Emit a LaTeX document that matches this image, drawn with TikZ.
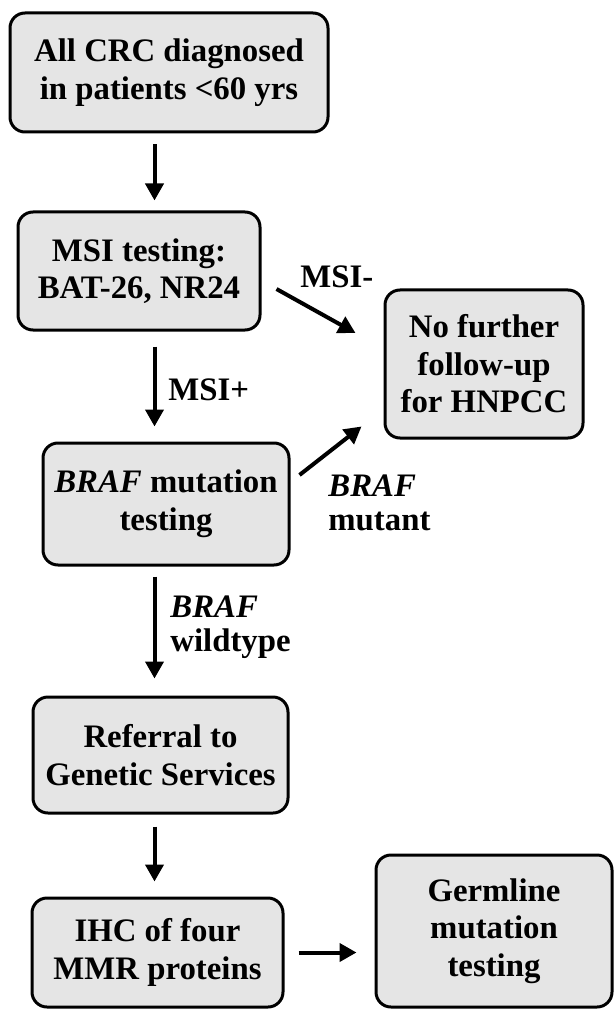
\documentclass[tikz,border=0pt]{standalone}
\usepackage{fontspec}
\setmainfont{Liberation Serif}
\usepackage{xcolor}
\usepackage{tikz}
\usetikzlibrary{positioning,calc,arrows.meta}
\definecolor{BoxGray}{RGB}{229,229,229}

\begin{document}
\begin{tikzpicture}[
        x=0.5pt, y=-0.5pt,
        % khung cho tung buoc
        stepbox/.style={
            rectangle,
            rounded corners=7.5pt,
            draw=black,
            line width=1.5pt,
            fill=BoxGray,
            align=center,
            inner sep=0pt,
            font=\fontsize{16.4}{18.8}\selectfont\bfseries
        },
        % nhan ben canh mui ten
        lbl/.style={
            anchor=west,
            align=left,
            inner sep=0pt,
            font=\fontsize{16.4}{16.8}\selectfont\bfseries
        },
        flow/.style={-{Triangle[length=8.5pt,width=9pt]}, line width=2pt}
    ]
        \useasboundingbox (0,0) rectangle (614,1010);

        % --- CAC BUOC ---
        \node[stepbox, minimum width=159pt, minimum height=59.5pt] (crc) at (169,72.5)
            {All CRC diagnosed\\in patients <60 yrs};
        \node[stepbox, minimum width=121pt, minimum height=59pt] (msi) at (139,271)
            {MSI testing:\\BAT-26, NR24};
        \node[stepbox, minimum width=99pt, minimum height=74pt] (nofollow) at (484,364)
            {No further\\follow-up\\for HNPCC};
        \node[stepbox, minimum width=123pt, minimum height=61pt] (braf) at (166,504)
            {\textit{BRAF} mutation\\testing};
        \node[stepbox, minimum width=127.5pt, minimum height=58pt] (referral) at (160.5,755)
            {Referral to\\Genetic Services};
        \node[stepbox, minimum width=125.5pt, minimum height=54.5pt] (ihc) at (157.5,952.5)
            {IHC of four\\MMR proteins};
        \node[stepbox, minimum width=118pt, minimum height=76pt] (germline) at (494,931)
            {Germline\\mutation\\testing};

        % truc doc cua cac mui ten chinh
        \coordinate (spine) at (154.5,0);

        % --- MUI TEN ---
        \draw[flow, shorten <=5.5pt, shorten >=5pt] (crc.south -| spine) -- (msi.north -| spine);
        \draw[flow, shorten <=7.5pt, shorten >=7.5pt] (msi.south -| spine) -- (braf.north -| spine);
        \draw[flow] ($(msi.east)+(15,18)$) -- ($(nofollow.west)+(-28,-31)$);
        \draw[flow] ($(braf.east)+(9,-29)$) -- ($(nofollow.south west)+(-22,-13)$);
        \draw[flow, shorten <=5pt, shorten >=8.5pt] (braf.south -| spine) -- (referral.north -| spine);
        \draw[flow, shorten <=6pt, shorten >=7.5pt] (referral.south -| spine) -- (ihc.north -| spine);
        \draw[flow, shorten <=7pt, shorten >=9pt] (ihc.east) -- (ihc.east -| germline.west);

        % --- NHAN ---
        \node[lbl] (msineg) at (300,277) {MSI-};
        \node[lbl] (msipos) at (168,390) {MSI+};
        \node[lbl] (mutant) at (328,503) {\textit{BRAF}\\mutant};
        \node[lbl] (wildtype) at (170,627) {\textit{BRAF}\\wildtype};

    \end{tikzpicture}
\end{document}
